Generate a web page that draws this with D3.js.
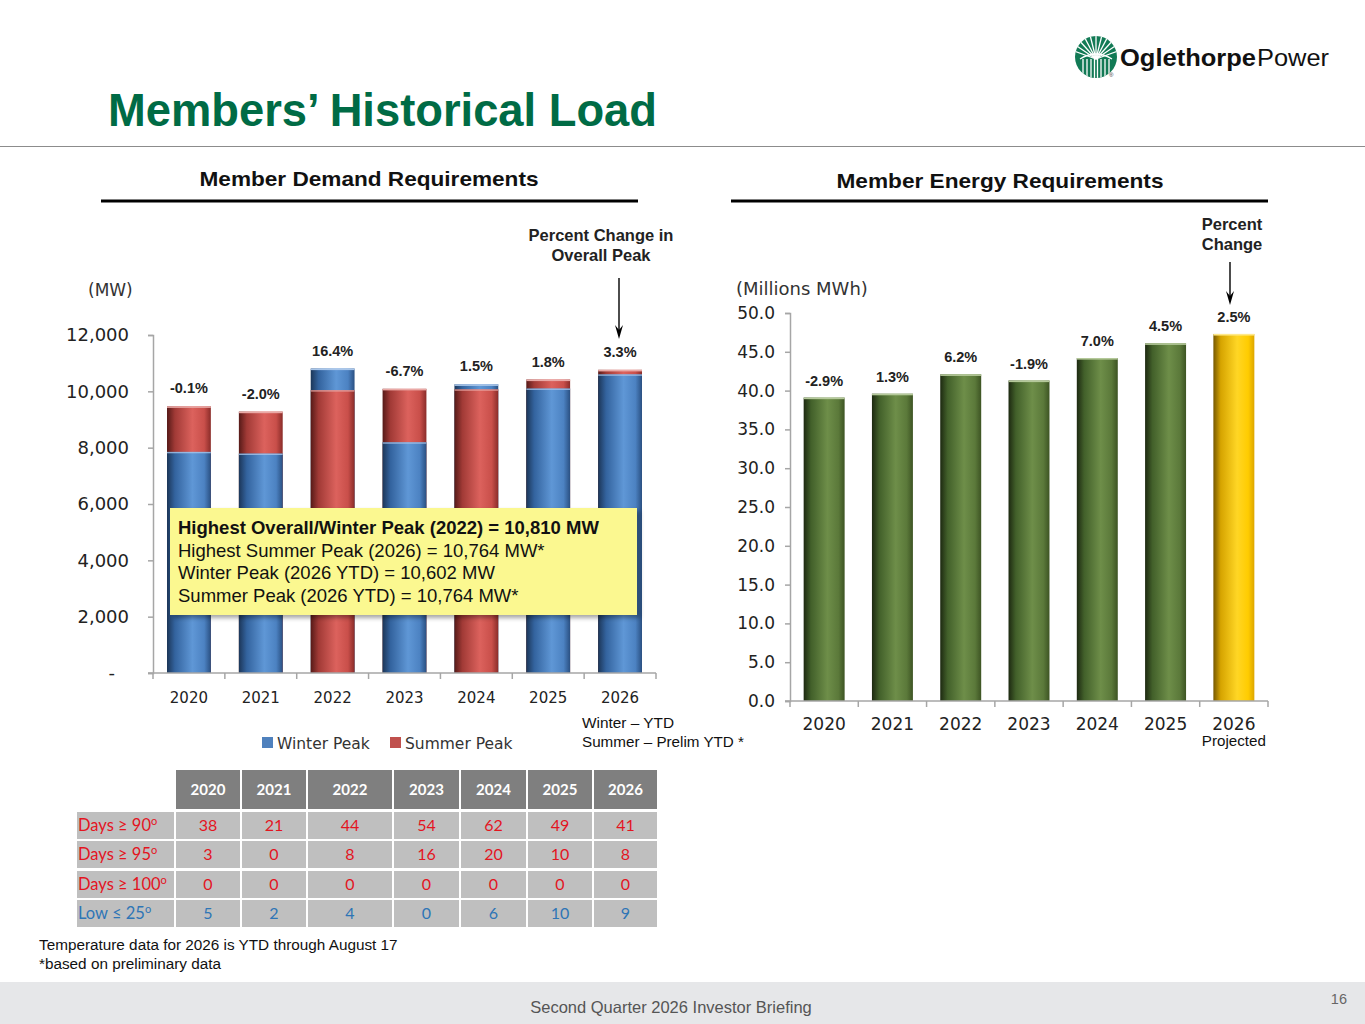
<!DOCTYPE html>
<html><head><meta charset="utf-8">
<script src="https://cdn.jsdelivr.net/npm/d3@7"></script>
<style>body{margin:0;background:#fff;} svg{display:block;}</style>
</head><body>
<svg id="s" width="1365" height="1024"></svg>
<script>
// ---------------- DATA ----------------
const years = ["2020","2021","2022","2023","2024","2025","2026"];
const winterPeak = [7850, 7790, 10810, 8190, 10250, 10100, 10602];
const summerPeak = [9470, 9280, 10040, 10090, 10070, 10420, 10764];
const demandPctChange = ["-0.1%","-2.0%","16.4%","-6.7%","1.5%","1.8%","3.3%"];
const demandTicks = [0, 2000, 4000, 6000, 8000, 10000, 12000];

const energy = [39.1, 39.6, 42.1, 41.3, 44.2, 46.1, 47.3];
const energyPctChange = ["-2.9%","1.3%","6.2%","-1.9%","7.0%","4.5%","2.5%"];
const energyTicks = [0, 5, 10, 15, 20, 25, 30, 35, 40, 45, 50];

const tableRowLabels = ["Days \u2265 90", "Days \u2265 95", "Days \u2265 100", "Low \u2264 25"];
const days90 = [38, 21, 44, 54, 62, 49, 41];
const days95 = [3, 0, 8, 16, 20, 10, 8];
const days100 = [0, 0, 0, 0, 0, 0, 0];
const low25 = [5, 2, 4, 0, 6, 10, 9];

const calloutLines = [
  "Highest Overall/Winter Peak (2022) = 10,810 MW",
  "Highest Summer Peak (2026) = 10,764 MW*",
  "Winter Peak (2026 YTD) = 10,602 MW",
  "Summer Peak (2026 YTD) = 10,764 MW*"
];

// ---------------- SETUP ----------------
const svg = d3.select("#s");
const defs = svg.append("defs");
const ARIAL = "'Liberation Sans', Arial, sans-serif";
const VERD = "'DejaVu Sans', Verdana, sans-serif";
const CAL = "Lato, 'Open Sans', sans-serif";

function grad(id, stops) {
  const g = defs.append("linearGradient").attr("id", id)
    .attr("x1", "0%").attr("x2", "100%").attr("y1", "0%").attr("y2", "0%");
  stops.forEach(([o, c]) => g.append("stop").attr("offset", o).attr("stop-color", c));
}
grad("gBlue", [["0%","#1C3658"],["18%","#33639E"],["58%","#5F97D6"],["85%","#4C82C2"],["100%","#2A5082"]]);
grad("gRed", [["0%","#561A18"],["18%","#A13A36"],["58%","#DC625D"],["85%","#C94F4A"],["100%","#8A2C29"]]);
grad("gGreen", [["0%","#1D2911"],["18%","#42602A"],["58%","#6E8E49"],["85%","#5B793A"],["100%","#3D5423"]]);
grad("gGold", [["0%","#765800"],["18%","#D6A400"],["58%","#FFD625"],["85%","#FFCC00"],["100%","#DDA600"]]);

const f = defs.append("filter").attr("id", "shadow").attr("x", "-5%").attr("y", "-5%").attr("width", "115%").attr("height", "120%");
f.append("feDropShadow").attr("dx", 3).attr("dy", 3).attr("stdDeviation", 2).attr("flood-color", "#000").attr("flood-opacity", 0.35);

function downArrow(x, y1, y2) {
  svg.append("line").attr("x1", x).attr("x2", x).attr("y1", y1).attr("y2", y2 - 6)
    .attr("stroke", "#000").attr("stroke-width", 1.4);
  svg.append("path").attr("d", `M${x - 4},${y2 - 14} L${x},${y2} L${x + 4},${y2 - 14} L${x},${y2 - 9} Z`)
    .attr("fill", "#000");
}

// ---------------- HEADER ----------------
svg.append("text").attr("x", 108).attr("y", 126).attr("font-family", ARIAL)
  .attr("font-weight", "bold").attr("font-size", 46).attr("fill", "#006B45")
  .attr("textLength", 549).attr("lengthAdjust", "spacingAndGlyphs")
  .text("Members\u2019 Historical Load");
svg.append("line").attr("x1", 0).attr("x2", 1365).attr("y1", 146.5).attr("y2", 146.5)
  .attr("stroke", "#8C8C8C").attr("stroke-width", 1.2);

// Logo
const logo = svg.append("g");
const cx = 1096, cy = 57, r = 21;
defs.append("clipPath").attr("id", "lc").append("circle").attr("cx", cx).attr("cy", cy).attr("r", r);
logo.append("circle").attr("cx", cx).attr("cy", cy).attr("r", r).attr("fill", "#127A55");
const lg = logo.append("g").attr("clip-path", "url(#lc)").attr("stroke", "#fff").attr("stroke-width", 1.3).attr("fill", "none");
[-13, -9, -5, -1.5, 1.5, 5, 9, 13].forEach(dx => {
  lg.append("line").attr("x1", cx + dx).attr("x2", cx + dx).attr("y1", cy + 2).attr("y2", cy + r + 2);
});
d3.range(-70, 71, 14).forEach(a => {
  const rad = (a - 90) * Math.PI / 180;
  lg.append("line").attr("x1", cx).attr("y1", cy + 2)
    .attr("x2", cx + Math.cos(rad) * 30).attr("y2", cy + 2 + Math.sin(rad) * 30);
});
lg.append("path").attr("d", `M${cx - 16},${cy + 2} Q${cx},${cy - 8} ${cx + 16},${cy + 2}`);
logo.append("text").attr("x", 1109).attr("y", 77).attr("font-size", 6).attr("font-family", ARIAL).attr("fill", "#333").text("\u00AE");
logo.append("text").attr("x", 1120).attr("y", 66).attr("font-family", ARIAL).attr("font-weight", "bold")
  .attr("font-size", 23).attr("fill", "#111").attr("textLength", 136).attr("lengthAdjust", "spacingAndGlyphs").text("Oglethorpe");
logo.append("text").attr("x", 1257).attr("y", 66).attr("font-family", ARIAL)
  .attr("font-size", 23).attr("fill", "#111").attr("textLength", 72).attr("lengthAdjust", "spacingAndGlyphs").text("Power");

// Subtitles
function subtitle(cxp, y, txt, x1, x2, len) {
  svg.append("text").attr("x", cxp).attr("y", y).attr("text-anchor", "middle")
    .attr("font-family", ARIAL).attr("font-weight", "bold").attr("font-size", 21).attr("fill", "#111")
    .attr("textLength", len).attr("lengthAdjust", "spacingAndGlyphs").text(txt);
  svg.append("line").attr("x1", x1).attr("x2", x2).attr("y1", 201).attr("y2", 201)
    .attr("stroke", "#000").attr("stroke-width", 3);
}
subtitle(369, 186, "Member Demand Requirements", 101, 638, 339);
subtitle(1000, 188, "Member Energy Requirements", 731, 1268, 327);

function noteLines(xc, ys, lines) {
  lines.forEach((t, i) => svg.append("text").attr("x", xc).attr("y", ys[i]).attr("text-anchor", "middle")
    .attr("font-family", ARIAL).attr("font-weight", "bold").attr("font-size", 16.5).attr("fill", "#222").text(t));
}
noteLines(601, [241, 261], ["Percent Change in", "Overall Peak"]);
noteLines(1232, [230, 250], ["Percent", "Change"]);
downArrow(619, 278, 339);
downArrow(1230, 262, 305);

// ---------------- LEFT CHART ----------------
const xL = d3.scaleBand().domain(years).range([153, 656]).paddingInner(0.39).paddingOuter(0.195);
const yL = d3.scaleLinear().domain([0, 12000]).range([673, 335]);
const AX = "#A6A6A6";

svg.append("text").attr("x", 88).attr("y", 296).attr("font-family", VERD).attr("font-size", 17)
  .attr("fill", "#333").text("(MW)");

const leftAxis = svg.append("g").attr("transform", "translate(153,0)")
  .call(d3.axisLeft(yL).tickValues(demandTicks).tickSize(5).tickPadding(19)
    .tickFormat(d => d === 0 ? "-" : d3.format(",")(d)));
leftAxis.select(".domain").attr("stroke", AX).attr("stroke-width", 1.5);
leftAxis.selectAll(".tick line").attr("stroke", AX).attr("stroke-width", 1.5);
leftAxis.selectAll(".tick text").attr("font-family", VERD).attr("font-size", 18).attr("fill", "#222")
  .attr("dx", d => d === 0 ? -14 : 0);

const demand = years.map((y, i) => ({ y, w: winterPeak[i], s: summerPeak[i], pct: demandPctChange[i] }));
const bars = svg.append("g");
demand.forEach(d => {
  const backIsWinter = d.w >= d.s;
  const back = Math.max(d.w, d.s), front = Math.min(d.w, d.s);
  const x0 = xL(d.y), bw = xL.bandwidth();
  bars.append("rect").attr("x", x0).attr("width", bw).attr("y", yL(back)).attr("height", yL(0) - yL(back))
    .attr("fill", backIsWinter ? "url(#gBlue)" : "url(#gRed)");
  bars.append("rect").attr("x", x0).attr("width", bw).attr("y", yL(back)).attr("height", 1.6)
    .attr("fill", backIsWinter ? "#A9C6EA" : "#EAA9A6");
  bars.append("rect").attr("x", x0).attr("width", bw).attr("y", yL(front)).attr("height", yL(0) - yL(front))
    .attr("fill", backIsWinter ? "url(#gRed)" : "url(#gBlue)");
  bars.append("rect").attr("x", x0).attr("width", bw).attr("y", yL(front)).attr("height", 1.4)
    .attr("fill", backIsWinter ? "#EAA9A6" : "#A9C6EA").attr("opacity", 0.8);
  bars.append("text").attr("x", x0 + bw / 2).attr("y", yL(back) - 13).attr("text-anchor", "middle")
    .attr("font-family", ARIAL).attr("font-weight", "bold").attr("font-size", 14.5).attr("fill", "#222")
    .text(d.pct);
});

function bandAxis(x, yPos, x0, labelY, fontSize) {
  const g = svg.append("g");
  const edges = x.domain().map(v => x(v) + x.bandwidth() / 2 - x.step() / 2);
  edges.push(edges[edges.length - 1] + x.step());
  g.append("line").attr("x1", x0).attr("x2", edges[edges.length - 1]).attr("y1", yPos).attr("y2", yPos)
    .attr("stroke", AX).attr("stroke-width", 1.5);
  edges.forEach(e => g.append("line").attr("x1", e).attr("x2", e).attr("y1", yPos).attr("y2", yPos + 6)
    .attr("stroke", AX).attr("stroke-width", 1.5));
  x.domain().forEach(v => g.append("text").attr("x", x(v) + x.bandwidth() / 2).attr("y", labelY)
    .attr("text-anchor", "middle").attr("font-family", VERD).attr("font-size", fontSize).attr("fill", "#222").text(v));
}
bandAxis(xL, 673, 148, 703, 15);

// Legend
const legendItems = [{ t: "Winter Peak", c: "#4F81BD", x: 262 }, { t: "Summer Peak", c: "#C0504D", x: 390 }];
legendItems.forEach(l => {
  svg.append("rect").attr("x", l.x).attr("y", 737).attr("width", 11).attr("height", 11).attr("fill", l.c);
  svg.append("text").attr("x", l.x + 15).attr("y", 748.5).attr("font-family", VERD).attr("font-size", 15.5)
    .attr("fill", "#333").text(l.t);
});
svg.append("text").attr("x", 582).attr("y", 728).attr("font-family", ARIAL).attr("font-size", 14.5).attr("fill", "#111")
  .attr("textLength", 92).attr("lengthAdjust", "spacingAndGlyphs").text("Winter \u2013 YTD");
svg.append("text").attr("x", 582).attr("y", 747).attr("font-family", ARIAL).attr("font-size", 14.5).attr("fill", "#111")
  .attr("textLength", 162).attr("lengthAdjust", "spacingAndGlyphs").text("Summer \u2013 Prelim YTD *");

// Callout box
svg.append("rect").attr("x", 170).attr("y", 508).attr("width", 467).attr("height", 107)
  .attr("fill", "#FBF890").attr("filter", "url(#shadow)");
calloutLines.forEach((t, i) => {
  svg.append("text").attr("x", 178).attr("y", 534 + i * 22.7).attr("font-family", ARIAL)
    .attr("font-weight", i === 0 ? "bold" : "normal").attr("font-size", 18.5).attr("fill", "#111").text(t);
});

// ---------------- RIGHT CHART ----------------
const xR = d3.scaleBand().domain(years).range([790, 1268]).paddingInner(0.4).paddingOuter(0.2);
const yR = d3.scaleLinear().domain([0, 50]).range([701, 313]);

svg.append("text").attr("x", 736).attr("y", 295).attr("font-family", VERD).attr("font-size", 18)
  .attr("fill", "#333").text("(Millions MWh)");

const rightAxis = svg.append("g").attr("transform", "translate(790,0)")
  .call(d3.axisLeft(yR).tickValues(energyTicks).tickSize(5).tickPadding(10).tickFormat(d3.format(".1f")));
rightAxis.select(".domain").attr("stroke", AX).attr("stroke-width", 1.5);
rightAxis.selectAll(".tick line").attr("stroke", AX).attr("stroke-width", 1.5);
rightAxis.selectAll(".tick text").attr("font-family", VERD).attr("font-size", 17).attr("fill", "#222");

const eData = years.map((y, i) => ({ y, v: energy[i], pct: energyPctChange[i], last: i === years.length - 1 }));
const eg = svg.append("g");
eData.forEach(d => {
  const x0 = xR(d.y), bw = xR.bandwidth();
  eg.append("rect").attr("x", x0).attr("width", bw).attr("y", yR(d.v)).attr("height", yR(0) - yR(d.v))
    .attr("fill", d.last ? "url(#gGold)" : "url(#gGreen)");
  eg.append("rect").attr("x", x0).attr("width", bw).attr("y", yR(d.v)).attr("height", 1.6)
    .attr("fill", d.last ? "#FFE98A" : "#B5C99A");
  eg.append("text").attr("x", x0 + bw / 2).attr("y", yR(d.v) - 12).attr("text-anchor", "middle")
    .attr("font-family", ARIAL).attr("font-weight", "bold").attr("font-size", 14.5).attr("fill", "#222").text(d.pct);
});
bandAxis(xR, 701, 785, 730, 17);
svg.append("text").attr("x", xR("2026") + xR.bandwidth() / 2).attr("y", 746).attr("text-anchor", "middle")
  .attr("font-family", ARIAL).attr("font-size", 15).attr("fill", "#111")
  .attr("textLength", 64).attr("lengthAdjust", "spacingAndGlyphs").text("Projected");

// ---------------- TABLE ----------------
const colEdges = [176, 242, 308, 394, 461, 528, 594, 659];
const labelCol = [77, 174];
const headTop = 770, headH = 39;
const rowTops = [812, 841, 871, 900], rowH = 27;
const RED = "#E3151F", BLUE = "#2E75B6";
const tableRows = [
  { label: tableRowLabels[0], vals: days90, c: RED },
  { label: tableRowLabels[1], vals: days95, c: RED },
  { label: tableRowLabels[2], vals: days100, c: RED },
  { label: tableRowLabels[3], vals: low25, c: BLUE }
];
const tg = svg.append("g");
years.forEach((yv, j) => {
  const xa = colEdges[j], xb = colEdges[j + 1] - 2;
  tg.append("rect").attr("x", xa).attr("y", headTop).attr("width", xb - xa).attr("height", headH).attr("fill", "#7F7F7F");
  tg.append("text").attr("x", (xa + xb) / 2).attr("y", headTop + 25).attr("text-anchor", "middle")
    .attr("font-family", CAL).attr("font-weight", "bold").attr("font-size", 15).attr("fill", "#fff").text(yv);
});
tableRows.forEach((row, i) => {
  const yt = rowTops[i];
  tg.append("rect").attr("x", labelCol[0]).attr("y", yt).attr("width", labelCol[1] - labelCol[0]).attr("height", rowH).attr("fill", "#BFBFBF");
  const lt = tg.append("text").attr("x", labelCol[0] + 1).attr("y", yt + 19).attr("font-family", CAL)
    .attr("font-size", 16.5).attr("fill", row.c);
  lt.append("tspan").text(row.label);
  lt.append("tspan").attr("dy", -6).attr("font-size", 11).text("o");
  row.vals.forEach((v, j) => {
    const xa = colEdges[j], xb = colEdges[j + 1] - 2;
    tg.append("rect").attr("x", xa).attr("y", yt).attr("width", xb - xa).attr("height", rowH).attr("fill", "#BFBFBF");
    tg.append("text").attr("x", (xa + xb) / 2).attr("y", yt + 19).attr("text-anchor", "middle")
      .attr("font-family", CAL).attr("font-size", 16).attr("fill", row.c).text(v);
  });
});

svg.append("text").attr("x", 39).attr("y", 950).attr("font-family", ARIAL).attr("font-size", 15.3).attr("fill", "#111")
  .text("Temperature data for 2026 is YTD through August 17");
svg.append("text").attr("x", 39).attr("y", 969).attr("font-family", ARIAL).attr("font-size", 15.3).attr("fill", "#111")
  .text("*based on preliminary data");

// ---------------- FOOTER ----------------
svg.append("rect").attr("x", 0).attr("y", 982).attr("width", 1365).attr("height", 42).attr("fill", "#E6E7E9");
svg.append("text").attr("x", 671).attr("y", 1013).attr("text-anchor", "middle").attr("font-family", ARIAL)
  .attr("font-size", 16.5).attr("fill", "#555").text("Second Quarter 2026 Investor Briefing");
svg.append("text").attr("x", 1347).attr("y", 1004).attr("text-anchor", "end").attr("font-family", ARIAL)
  .attr("font-size", 14.5).attr("fill", "#666").text("16");
</script>
</body></html>
